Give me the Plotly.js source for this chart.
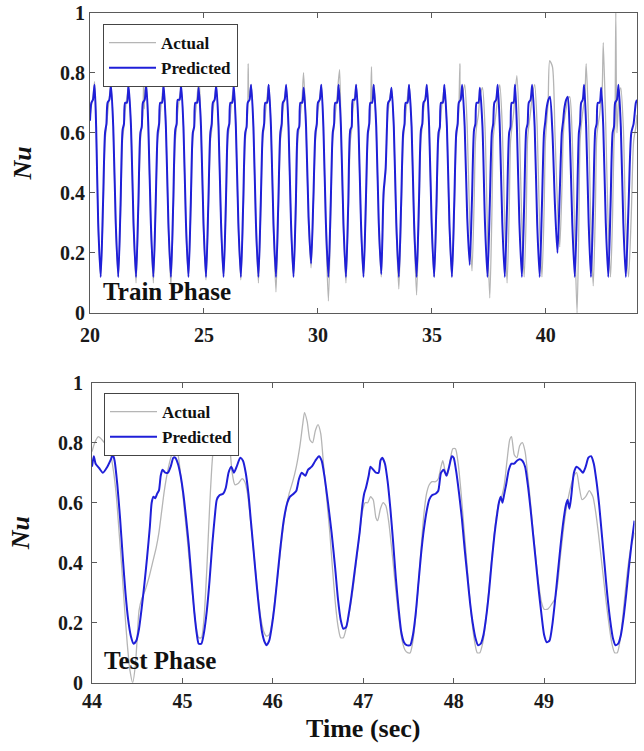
<!DOCTYPE html>
<html>
<head>
<meta charset="utf-8">
<script src="https://cdn.plot.ly/plotly-3.0.1.min.js"></script>
<style>html,body{margin:0;padding:0;background:#fff;}#chart{width:644px;height:751px;}</style>
</head>
<body>
<div id="chart"></div>
<script>
// ---------- Train phase (top panel) ----------
const trainPredTime = [
20.00,20.06,20.13,20.20,20.27,20.36,
20.47,20.57,20.66,20.72,20.77,20.85,20.92,21.02,21.13,
21.24,21.34,21.43,21.49,21.54,21.62,21.69,21.80,21.91,
22.02,22.12,22.21,22.27,22.32,22.40,22.47,22.56,22.67,
22.78,22.88,22.97,23.03,23.08,23.16,23.23,23.33,23.44,
23.55,23.65,23.74,23.80,23.85,23.93,24.00,24.10,24.21,
24.32,24.42,24.51,24.57,24.62,24.70,24.77,24.87,24.98,
25.09,25.19,25.28,25.34,25.39,25.47,25.54,25.64,25.75,
25.86,25.96,26.05,26.11,26.16,26.24,26.31,26.40,26.51,
26.62,26.72,26.81,26.87,26.92,27.00,27.07,27.17,27.28,
27.39,27.49,27.58,27.64,27.69,27.77,27.84,27.94,28.05,
28.16,28.26,28.35,28.41,28.46,28.54,28.61,28.71,28.82,
28.93,29.03,29.12,29.18,29.23,29.31,29.38,29.48,29.59,
29.70,29.80,29.89,29.95,30.00,30.08,30.15,30.24,30.35,
30.46,30.56,30.65,30.71,30.76,30.84,30.91,31.01,31.12,
31.23,31.33,31.42,31.48,31.53,31.61,31.68,31.78,31.89,
32.00,32.10,32.19,32.25,32.30,32.38,32.45,32.56,32.67,
32.78,32.88,32.97,33.03,33.08,33.16,33.23,33.33,33.44,
33.55,33.65,33.74,33.80,33.85,33.93,34.00,34.11,34.22,
34.33,34.43,34.52,34.58,34.63,34.71,34.78,34.88,34.99,
35.10,35.20,35.29,35.35,35.40,35.48,35.55,35.66,35.77,
35.88,35.98,36.07,36.13,36.18,36.26,36.33,36.44,36.55,
36.66,36.76,36.85,36.91,36.96,37.04,37.11,37.22,37.33,
37.44,37.54,37.63,37.69,37.74,37.82,37.89,37.98,38.09,
38.20,38.30,38.39,38.45,38.50,38.58,38.65,38.73,38.84,
38.95,39.05,39.14,39.20,39.25,39.33,39.40,39.51,39.62,
39.73,39.83,39.92,39.98,40.03,40.11,40.18,40.29,40.40,
40.51,40.61,40.70,40.76,40.81,40.89,40.96,41.05,41.16,
41.27,41.37,41.45,41.50,41.55,41.62,41.68,41.77,41.88,
41.98,42.08,42.17,42.23,42.28,42.36,42.43,42.52,42.63,
42.74,42.84,42.93,42.99,43.04,43.12,43.19,43.29,43.40,
43.51,43.63,43.75,43.85,43.95,44.00
];
const trainPred = [
0.64,0.70,0.71,0.76,0.62,0.30,
0.12,0.36,0.60,0.63,0.70,0.71,0.76,0.62,0.30,
0.12,0.36,0.61,0.63,0.70,0.70,0.76,0.62,0.30,
0.12,0.36,0.60,0.62,0.70,0.71,0.76,0.62,0.30,
0.12,0.36,0.60,0.63,0.70,0.70,0.76,0.62,0.30,
0.12,0.36,0.61,0.63,0.71,0.71,0.76,0.62,0.30,
0.12,0.36,0.60,0.62,0.70,0.70,0.75,0.62,0.30,
0.12,0.36,0.60,0.63,0.70,0.71,0.76,0.62,0.30,
0.12,0.36,0.61,0.63,0.70,0.70,0.76,0.62,0.30,
0.12,0.36,0.60,0.62,0.70,0.71,0.76,0.62,0.30,
0.12,0.36,0.60,0.63,0.70,0.70,0.76,0.62,0.30,
0.12,0.36,0.60,0.63,0.70,0.71,0.76,0.62,0.30,
0.12,0.36,0.61,0.62,0.70,0.70,0.75,0.62,0.32,
0.165,0.38,0.60,0.63,0.70,0.71,0.76,0.62,0.30,
0.12,0.36,0.60,0.63,0.70,0.70,0.76,0.62,0.30,
0.12,0.36,0.61,0.62,0.71,0.71,0.76,0.62,0.30,
0.12,0.36,0.60,0.63,0.70,0.70,0.76,0.62,0.30,
0.13,0.40,0.48,0.62,0.70,0.71,0.75,0.62,0.30,
0.12,0.36,0.60,0.63,0.70,0.70,0.76,0.62,0.30,
0.12,0.36,0.61,0.63,0.70,0.71,0.76,0.62,0.30,
0.12,0.36,0.60,0.62,0.70,0.70,0.76,0.62,0.30,
0.12,0.36,0.60,0.63,0.70,0.71,0.76,0.62,0.32,
0.16,0.38,0.61,0.63,0.70,0.70,0.75,0.62,0.30,
0.12,0.36,0.60,0.63,0.70,0.71,0.76,0.62,0.30,
0.12,0.36,0.60,0.62,0.70,0.70,0.76,0.62,0.30,
0.12,0.36,0.61,0.63,0.70,0.71,0.76,0.62,0.30,
0.12,0.36,0.60,0.64,0.68,0.71,0.72,0.60,0.36,
0.20,0.40,0.60,0.64,0.68,0.71,0.72,0.60,0.30,
0.12,0.36,0.60,0.63,0.70,0.71,0.76,0.62,0.30,
0.12,0.36,0.61,0.63,0.70,0.70,0.75,0.62,0.30,
0.12,0.36,0.60,0.62,0.70,0.71,0.76,0.62,0.30,
0.12,0.36,0.60,0.63,0.70,0.71
];
const trainActualTime = [
20.00,20.06,20.13,20.20,20.27,20.36,
20.47,20.57,20.66,20.72,20.77,20.85,20.92,21.02,21.13,
21.24,21.34,21.43,21.49,21.54,21.62,21.69,21.80,21.91,
22.02,22.12,22.21,22.27,22.32,22.36,22.38,22.40,22.47,22.56,22.67,
22.78,22.88,22.97,23.03,23.08,23.16,23.23,23.33,23.44,
23.55,23.65,23.74,23.80,23.85,23.93,24.00,24.10,24.21,
24.32,24.42,24.51,24.57,24.62,24.70,24.78,24.87,24.98,
25.09,25.19,25.28,25.34,25.39,25.47,25.54,25.64,25.75,
25.86,25.96,26.05,26.11,26.16,26.24,26.31,26.40,26.51,
26.62,26.72,26.81,26.87,26.92,26.94,26.97,27.00,27.07,27.17,27.28,
27.39,27.49,27.58,27.64,27.69,27.77,27.84,27.94,28.05,
28.16,28.26,28.35,28.41,28.46,28.54,28.61,28.71,28.82,
28.93,29.03,29.12,29.18,29.23,29.31,29.37,29.48,29.59,
29.70,29.80,29.89,29.95,30.00,30.08,30.15,30.24,30.35,
30.46,30.56,30.65,30.71,30.76,30.84,30.95,31.01,31.12,
31.23,31.33,31.42,31.48,31.53,31.61,31.68,31.78,31.89,
32.00,32.10,32.19,32.25,32.30,32.35,32.38,32.45,32.56,32.67,
32.78,32.88,32.97,33.03,33.08,33.16,33.23,33.33,33.44,
33.55,33.65,33.74,33.80,33.85,33.93,34.00,34.11,34.22,
34.33,34.43,34.52,34.58,34.63,34.71,34.78,34.88,34.99,
35.10,35.20,35.29,35.35,35.40,35.48,35.55,35.66,35.77,
35.88,35.98,36.07,36.13,36.18,36.23,36.26,36.33,36.44,36.55,
36.66,36.76,36.85,36.91,36.96,37.04,37.11,37.22,37.33,
37.44,37.54,37.63,37.69,37.74,37.82,37.89,37.98,38.09,
38.20,38.30,38.39,38.45,38.50,38.58,38.64,38.73,38.84,
38.95,39.05,39.14,39.20,39.25,39.33,39.40,39.51,39.62,
39.73,39.83,39.92,39.98,40.03,40.10,40.17,40.29,40.40,
40.51,40.61,40.70,40.76,40.81,40.89,40.96,41.05,41.16,
41.27,41.37,41.45,41.50,41.55,41.62,41.71,41.77,41.88,
41.98,42.08,42.17,42.23,42.28,42.36,42.43,42.47,42.52,42.63,
42.74,42.84,42.93,42.99,43.03,43.07,43.12,43.19,43.29,43.40,
43.51,43.63,43.75,43.85,43.95,44.00
];
const trainActual = [
0.65,0.69,0.72,0.77,0.62,0.29,
0.12,0.33,0.57,0.62,0.66,0.72,0.76,0.62,0.28,
0.12,0.33,0.58,0.62,0.67,0.72,0.75,0.62,0.28,
0.10,0.33,0.57,0.62,0.66,0.80,0.68,0.72,0.76,0.62,0.28,
0.10,0.33,0.58,0.61,0.66,0.72,0.76,0.62,0.28,
0.09,0.33,0.57,0.62,0.67,0.72,0.75,0.62,0.28,
0.12,0.33,0.58,0.62,0.66,0.72,0.79,0.62,0.28,
0.11,0.33,0.57,0.61,0.67,0.72,0.76,0.62,0.28,
0.12,0.33,0.58,0.62,0.66,0.72,0.75,0.62,0.28,
0.11,0.33,0.57,0.62,0.67,0.83,0.72,0.73,0.76,0.62,0.28,
0.10,0.33,0.58,0.62,0.66,0.72,0.76,0.62,0.28,
0.07,0.32,0.57,0.61,0.67,0.72,0.75,0.62,0.28,
0.12,0.33,0.58,0.62,0.66,0.72,0.80,0.62,0.30,
0.15,0.36,0.57,0.62,0.67,0.72,0.76,0.62,0.27,
0.04,0.32,0.58,0.62,0.66,0.72,0.81,0.62,0.28,
0.10,0.33,0.57,0.61,0.67,0.72,0.76,0.62,0.28,
0.12,0.33,0.58,0.62,0.66,0.82,0.70,0.76,0.62,0.28,
0.12,0.38,0.47,0.61,0.67,0.72,0.75,0.62,0.27,
0.08,0.32,0.57,0.62,0.66,0.72,0.76,0.62,0.27,
0.06,0.32,0.58,0.62,0.67,0.72,0.76,0.62,0.28,
0.12,0.33,0.57,0.61,0.66,0.72,0.75,0.62,0.28,
0.12,0.33,0.58,0.62,0.67,0.83,0.71,0.72,0.76,0.62,0.30,
0.14,0.36,0.57,0.62,0.66,0.72,0.75,0.62,0.27,
0.05,0.32,0.58,0.62,0.67,0.72,0.76,0.62,0.28,
0.10,0.33,0.57,0.61,0.66,0.72,0.79,0.62,0.28,
0.12,0.33,0.58,0.62,0.67,0.72,0.76,0.62,0.28,
0.12,0.33,0.57,0.63,0.70,0.84,0.82,0.60,0.36,
0.22,0.40,0.58,0.64,0.68,0.71,0.72,0.58,0.26,
0.00,0.30,0.57,0.62,0.67,0.72,0.83,0.62,0.27,
0.09,0.33,0.58,0.62,0.66,0.72,0.74,0.90,0.62,0.28,
0.12,0.33,0.57,0.62,1.00,0.60,0.70,0.75,0.62,0.28,
0.12,0.33,0.57,0.62,0.66,0.65
];

// ---------- Test phase (bottom panel) ----------
const testPredTime = [
44.00,44.02,44.04,44.08,44.12,44.17,44.21,44.23,44.25,44.28,44.31,44.34,44.37,44.40,44.43,44.46,44.49,44.52,44.55,44.58,
44.61,44.64,44.66,44.68,44.70,44.72,44.74,44.76,44.78,44.81,44.84,44.87,44.90,44.92,44.95,44.98,45.01,45.04,45.07,45.10,
45.13,45.16,45.18,45.21,45.24,45.27,45.30,45.33,45.36,45.38,45.41,45.45,45.48,45.51,45.54,45.57,45.60,45.64,45.67,45.70,
45.73,45.76,45.79,45.82,45.85,45.88,45.91,45.93,45.96,45.99,46.02,46.05,46.08,46.12,46.16,46.19,46.23,46.26,46.29,46.32,
46.36,46.39,46.43,46.47,46.51,46.54,46.57,46.61,46.65,46.69,46.72,46.75,46.78,46.81,46.84,46.87,46.90,46.93,46.96,46.99,
47.01,47.03,47.06,47.08,47.11,47.14,47.17,47.19,47.21,47.24,47.27,47.30,47.33,47.36,47.39,47.42,47.45,47.48,47.52,47.55,
47.58,47.61,47.64,47.67,47.70,47.73,47.76,47.80,47.83,47.86,47.89,47.92,47.95,47.98,48.00,48.03,48.06,48.09,48.12,48.15,
48.18,48.21,48.24,48.27,48.30,48.33,48.36,48.39,48.42,48.45,48.48,48.50,48.52,48.54,48.56,48.58,48.61,48.64,48.67,48.70,
48.73,48.76,48.79,48.82,48.85,48.88,48.91,48.94,48.97,49.00,49.03,49.06,49.09,49.12,49.15,49.18,49.21,49.24,49.26,49.28,
49.30,49.33,49.36,49.40,49.43,49.46,49.49,49.52,49.55,49.58,49.61,49.64,49.67,49.70,49.73,49.76,49.79,49.82,49.85,49.88,
49.91,49.94,49.97,50.00
];
const testPred = [
0.72,0.755,0.73,0.715,0.70,0.72,0.745,0.76,0.74,0.66,0.55,0.42,0.30,0.21,0.155,0.13,0.14,0.18,0.25,0.33,
0.42,0.52,0.60,0.62,0.615,0.63,0.64,0.69,0.71,0.70,0.70,0.72,0.75,0.75,0.73,0.69,0.63,0.55,0.46,0.35,
0.24,0.16,0.13,0.13,0.17,0.24,0.34,0.46,0.56,0.61,0.625,0.63,0.65,0.70,0.72,0.70,0.72,0.75,0.74,0.70,
0.63,0.53,0.43,0.33,0.24,0.17,0.135,0.125,0.14,0.19,0.26,0.35,0.44,0.54,0.60,0.62,0.63,0.64,0.68,0.70,
0.69,0.71,0.72,0.74,0.755,0.74,0.69,0.60,0.50,0.38,0.28,0.21,0.18,0.185,0.23,0.29,0.36,0.43,0.50,0.59,
0.63,0.65,0.69,0.72,0.71,0.70,0.70,0.74,0.75,0.73,0.67,0.58,0.47,0.35,0.25,0.17,0.135,0.125,0.125,0.16,
0.23,0.33,0.43,0.51,0.57,0.61,0.625,0.63,0.64,0.70,0.71,0.69,0.72,0.755,0.75,0.70,0.63,0.55,0.45,0.36,
0.27,0.20,0.15,0.125,0.13,0.16,0.22,0.30,0.40,0.49,0.56,0.60,0.62,0.60,0.63,0.66,0.71,0.73,0.73,0.74,
0.745,0.74,0.72,0.66,0.58,0.49,0.40,0.31,0.23,0.16,0.135,0.14,0.19,0.27,0.36,0.45,0.53,0.59,0.61,0.58,
0.62,0.70,0.72,0.71,0.70,0.72,0.75,0.755,0.73,0.67,0.59,0.49,0.39,0.29,0.21,0.15,0.125,0.13,0.16,0.22,
0.30,0.39,0.47,0.54
];
const testActualTime = [
44.00,44.03,44.07,44.11,44.16,44.20,44.24,44.27,44.30,44.33,44.36,44.39,44.42,44.45,44.48,44.50,44.52,44.55,44.59,44.63,
44.67,44.71,44.74,44.77,44.80,44.84,44.88,44.91,44.94,44.97,45.00,45.03,45.06,45.09,45.12,45.15,45.18,45.21,45.24,45.27,
45.30,45.33,45.37,45.42,45.47,45.52,45.55,45.58,45.62,45.66,45.69,45.72,45.75,45.78,45.81,45.84,45.87,45.90,45.93,45.96,
45.99,46.02,46.06,46.10,46.14,46.18,46.22,46.26,46.30,46.33,46.35,46.38,46.41,46.44,46.47,46.50,46.53,46.56,46.60,46.63,
46.66,46.69,46.72,46.75,46.78,46.81,46.85,46.89,46.93,46.96,46.99,47.02,47.05,47.08,47.11,47.14,47.16,47.19,47.22,47.25,
47.28,47.31,47.34,47.37,47.40,47.43,47.46,47.49,47.52,47.55,47.58,47.61,47.64,47.67,47.70,47.73,47.76,47.80,47.83,47.86,
47.88,47.91,47.93,47.96,47.99,48.02,48.05,48.08,48.11,48.14,48.17,48.20,48.23,48.26,48.29,48.32,48.35,48.38,48.41,48.44,
48.47,48.50,48.53,48.56,48.59,48.62,48.64,48.67,48.70,48.73,48.76,48.79,48.82,48.85,48.88,48.91,48.94,48.97,49.00,49.04,
49.08,49.12,49.15,49.18,49.21,49.24,49.27,49.30,49.33,49.36,49.39,49.42,49.46,49.50,49.54,49.57,49.60,49.63,49.66,49.69,
49.72,49.75,49.78,49.81,49.84,49.87,49.90,49.93,49.96,50.00
];
const testActual = [
0.77,0.80,0.82,0.81,0.79,0.77,0.70,0.62,0.50,0.38,0.25,0.13,0.04,0.00,0.06,0.15,0.24,0.28,0.31,0.35,
0.40,0.45,0.50,0.57,0.64,0.71,0.76,0.79,0.78,0.72,0.64,0.55,0.46,0.36,0.27,0.19,0.15,0.15,0.22,0.38,
0.58,0.74,0.86,0.92,0.90,0.80,0.70,0.66,0.665,0.68,0.67,0.63,0.55,0.46,0.37,0.28,0.21,0.17,0.155,0.16,
0.20,0.27,0.37,0.48,0.57,0.63,0.67,0.72,0.79,0.86,0.90,0.87,0.81,0.80,0.84,0.86,0.83,0.73,0.60,0.50,
0.38,0.27,0.19,0.15,0.15,0.18,0.24,0.32,0.42,0.50,0.57,0.60,0.60,0.62,0.61,0.55,0.54,0.58,0.60,0.59,
0.54,0.46,0.37,0.28,0.20,0.14,0.11,0.10,0.10,0.14,0.22,0.33,0.45,0.56,0.63,0.66,0.67,0.67,0.68,0.72,
0.74,0.70,0.69,0.74,0.78,0.78,0.73,0.64,0.53,0.42,0.31,0.21,0.14,0.10,0.10,0.13,0.19,0.28,0.38,0.47,
0.55,0.60,0.62,0.66,0.74,0.81,0.82,0.76,0.75,0.79,0.80,0.77,0.69,0.60,0.50,0.41,0.33,0.27,0.245,0.245,
0.26,0.28,0.33,0.42,0.50,0.57,0.62,0.66,0.69,0.70,0.65,0.61,0.62,0.64,0.62,0.57,0.50,0.42,0.34,0.26,
0.19,0.13,0.10,0.10,0.14,0.22,0.31,0.39,0.45,0.50
];

const trainTicks = [20, 25, 30, 35, 40];
const testTicks = [44, 45, 46, 47, 48, 49, 50];
const nuTicks = [0, 0.2, 0.4, 0.6, 0.8, 1];
const seriesNames = ['Actual', 'Predicted'];

const SERIF = 'Liberation Serif';
const GRAY = '#b5b5b5';
const BLUE = '#1f1fd8';
const AXCOL = '#5a5a5a';

const traces = [
  {x: trainActualTime, y: trainActual, type: 'scatter', mode: 'lines', name: seriesNames[0],
   line: {color: GRAY, width: 1.3, shape: 'spline', smoothing: 0.7}, xaxis: 'x', yaxis: 'y', legend: 'legend'},
  {x: trainPredTime, y: trainPred, type: 'scatter', mode: 'lines', name: seriesNames[1],
   line: {color: BLUE, width: 2, shape: 'spline', smoothing: 0.7}, xaxis: 'x', yaxis: 'y', legend: 'legend'},
  {x: testActualTime, y: testActual, type: 'scatter', mode: 'lines', name: seriesNames[0],
   line: {color: GRAY, width: 1.3, shape: 'spline', smoothing: 0.6}, xaxis: 'x2', yaxis: 'y2', legend: 'legend2'},
  {x: testPredTime, y: testPred, type: 'scatter', mode: 'lines', name: seriesNames[1],
   line: {color: BLUE, width: 2, shape: 'spline', smoothing: 0.6}, xaxis: 'x2', yaxis: 'y2', legend: 'legend2'}
];

const tickFont = {family: SERIF, size: 20, weight: 'bold', color: '#1a1a1a'};
const baseAxis = {
  showline: true, linecolor: AXCOL, linewidth: 1, mirror: 'ticks',
  ticks: 'inside', ticklen: 5, tickcolor: AXCOL, tickwidth: 1,
  showgrid: false, zeroline: false, tickfont: tickFont, fixedrange: true
};
const nuTitle = {text: 'Nu', font: {family: SERIF, size: 26, weight: 'bold', style: 'italic', color: '#111'}, standoff: 20};
const legendBase = {
  bgcolor: '#ffffff', bordercolor: '#444', borderwidth: 1,
  font: {family: SERIF, size: 17, weight: 'bold', color: '#111'},
  xanchor: 'left', yanchor: 'top', itemwidth: 47, tracegroupgap: 0
};

const layout = {
  width: 644, height: 751,
  margin: {l: 0, r: 0, t: 0, b: 0},
  paper_bgcolor: '#ffffff', plot_bgcolor: '#ffffff',
  showlegend: true,
  xaxis: Object.assign({}, baseAxis, {domain: [90/644, 637/644], range: [20, 44],
    tickvals: trainTicks, ticktext: trainTicks.map(String), anchor: 'y', ticklabelstandoff: 4}),
  yaxis: Object.assign({}, baseAxis, {domain: [1 - 313/751, 1 - 12.7/751], range: [0, 1],
    tickvals: nuTicks, ticktext: nuTicks.map(String), anchor: 'x', title: nuTitle}),
  xaxis2: Object.assign({}, baseAxis, {domain: [92/644, 634.5/644], range: [44, 50],
    tickvals: testTicks, ticktext: testTicks.map(String), anchor: 'y2',
    title: {text: 'Time (sec)', font: {family: SERIF, size: 26, weight: 'bold', color: '#111'}, standoff: 8}}),
  yaxis2: Object.assign({}, baseAxis, {domain: [1 - 682.7/751, 1 - 382.7/751], range: [0, 1],
    tickvals: nuTicks, ticktext: nuTicks.map(String), anchor: 'x2', ticklabelstandoff: 4, title: nuTitle}),
  legend: Object.assign({}, legendBase, {x: 103/644, y: 1 - 24/751}),
  legend2: Object.assign({}, legendBase, {x: 104/644, y: 1 - 393/751}),
  annotations: [
    {text: 'Train Phase', xref: 'paper', yref: 'paper', x: 101/644, y: 1 - 291/751,
     xanchor: 'left', yanchor: 'middle', showarrow: false,
     font: {family: SERIF, size: 25, weight: 'bold', color: '#111'}},
    {text: 'Test Phase', xref: 'paper', yref: 'paper', x: 102/644, y: 1 - 660/751,
     xanchor: 'left', yanchor: 'middle', showarrow: false,
     font: {family: SERIF, size: 25, weight: 'bold', color: '#111'}}
  ]
};

Plotly.newPlot('chart', traces, layout, {staticPlot: true, displayModeBar: false});
</script>
</body>
</html>
